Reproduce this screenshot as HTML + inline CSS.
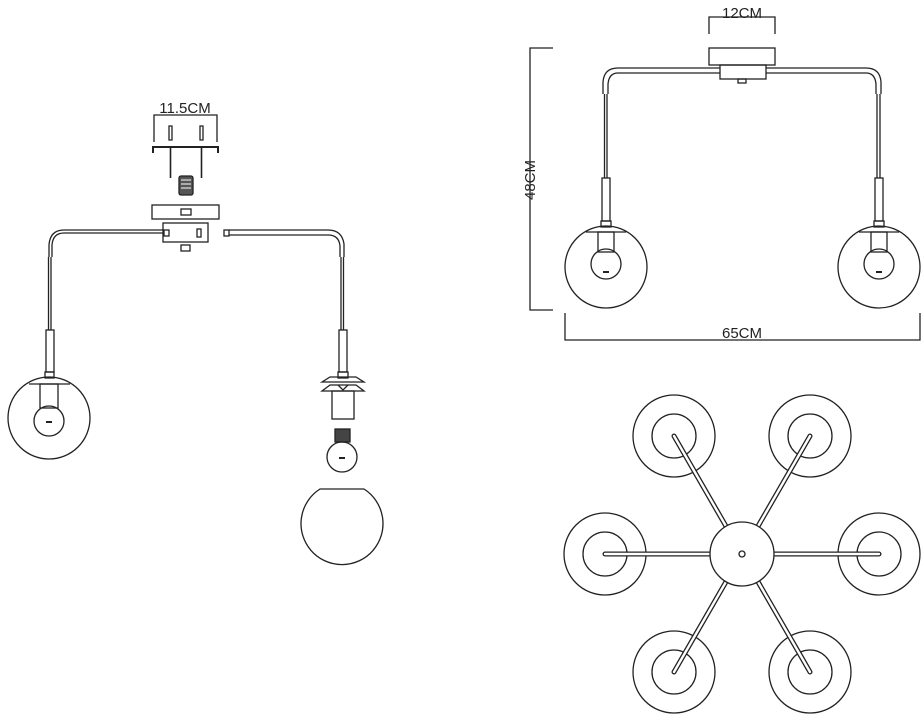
<!DOCTYPE html>
<html><head><meta charset="utf-8"><style>
html,body{margin:0;padding:0;background:#fff;}
svg{display:block;}
text{font-family:"Liberation Sans",sans-serif;font-size:15px;fill:#222;}
</style></head><body>
<svg width="921" height="720" viewBox="0 0 921 720" xmlns="http://www.w3.org/2000/svg" fill="none" stroke="#222" stroke-width="1.3">
<!-- LEFT exploded view -->
<text x="185" y="113" text-anchor="middle" stroke="none">11.5CM</text>
<path d="M154 142 V115 H217 V142"/>
<path d="M153 153 V147 H218 V153" stroke-width="2"/>
<path d="M169 126 v14 h3 v-14 z M200 126 v14 h3 v-14 z"/>
<path d="M170.5 148 v30 M201.5 148 v30" stroke-width="1.6"/>
<rect x="179" y="176" width="14" height="19" rx="2" fill="#555"/>
<path d="M181 180 h10 M181 184 h10 M181 188 h10" stroke="#fff" stroke-width="1"/>
<rect x="152" y="205" width="67" height="14"/>
<rect x="181" y="209" width="10" height="6"/>
<rect x="163" y="223" width="45" height="19"/>
<rect x="164" y="230" width="5" height="6"/>
<rect x="197" y="229" width="4" height="8"/>
<rect x="181" y="245" width="9" height="6"/>
<path d="M163 230 H64 Q50 230 49 245 V257 M163 233 H64 Q53 233 52 245 V257"/>
<rect x="224" y="230" width="5" height="6"/>
<path d="M229 230 H328 Q342 230 344 244 V257 M229 235 H328 Q339 235 340 246 V257"/>
<path d="M48.5 257 V330 M51 257 V330"/>
<rect x="46" y="330" width="8" height="42"/>
<rect x="45" y="372" width="9" height="6"/>
<circle cx="49" cy="418" r="41"/>
<path d="M29 384 H70"/>
<rect x="40" y="384" width="18" height="24"/>
<circle cx="49" cy="421" r="15"/>
<path d="M46 422 h6" stroke-width="2"/>
<path d="M341 257 V330 M343.5 257 V330"/>
<rect x="339" y="330" width="8" height="42"/>
<rect x="338" y="372" width="10" height="6"/>
<path d="M322 382 L330 377 H356 L364 382 Z"/>
<path d="M322 391 L330 385 H356 L364 391 Z"/>
<path d="M338 385 l5 5 l5 -5"/>
<rect x="332" y="391" width="22" height="28"/>
<rect x="335" y="429" width="15" height="13" fill="#444"/>
<circle cx="342" cy="457" r="15"/>
<path d="M339 458 h6" stroke-width="2"/>
<path d="M320 489 H364 A41 41 0 1 1 320 489 Z"/>
<!-- RIGHT elevation -->
<text x="742" y="18" text-anchor="middle" stroke="none">12CM</text>
<path d="M709 34 V17 H775 V34"/>
<path d="M553 48 H530 V310 H553"/>
<text transform="translate(535,180) rotate(-90)" text-anchor="middle" stroke="none">48CM</text>
<path d="M565 313 V340 H920 V313"/>
<text x="742" y="338" text-anchor="middle" stroke="none">65CM</text>
<rect x="709" y="48" width="66" height="17"/>
<rect x="720" y="65" width="46" height="14"/>
<rect x="738" y="79" width="8" height="4"/>
<path d="M720 68 H618 Q604 68 603 82 V94 M720 73 H618 Q609 73 608 84 V94"/>
<path d="M766 68 H866 Q880 68 881 82 V94 M766 73 H866 Q875 73 876 84 V94"/>
<path d="M604.5 94 V178 M607 94 V178 M877 94 V178 M880 94 V178"/>
<rect x="602" y="178" width="8" height="43"/>
<rect x="875" y="178" width="8" height="43"/>
<rect x="601" y="221" width="10" height="6"/>
<rect x="874" y="221" width="10" height="6"/>
<circle cx="606" cy="267" r="41"/>
<circle cx="879" cy="267" r="41"/>
<path d="M586 232 H626 M859 232 H899"/>
<rect x="598" y="232" width="16" height="20"/>
<rect x="871" y="232" width="16" height="20"/>
<circle cx="606" cy="264" r="15"/>
<circle cx="879" cy="264" r="15"/>
<path d="M603 272 h6 M876 272 h6" stroke-width="2"/>
<!-- BOTTOM plan -->
<g>
<circle cx="674" cy="436" r="41"/><circle cx="674" cy="436" r="22"/>
<circle cx="810" cy="436" r="41"/><circle cx="810" cy="436" r="22"/>
<circle cx="605" cy="554" r="41"/><circle cx="605" cy="554" r="22"/>
<circle cx="879" cy="554" r="41"/><circle cx="879" cy="554" r="22"/>
<circle cx="674" cy="672" r="41"/><circle cx="674" cy="672" r="22"/>
<circle cx="810" cy="672" r="41"/><circle cx="810" cy="672" r="22"/>
<g stroke-width="5" stroke-linecap="round"><path d="M674 436 L742 554 L810 436 M605 554 H879 M674 672 L742 554 L810 672"/></g>
<g stroke="#fff" stroke-width="2.4" stroke-linecap="round"><path d="M674 436 L742 554 L810 436 M605 554 H879 M674 672 L742 554 L810 672"/></g>
<circle cx="742" cy="554" r="32" fill="#fff"/>
<circle cx="742" cy="554" r="3"/>
</g>
</svg>
</body></html>
